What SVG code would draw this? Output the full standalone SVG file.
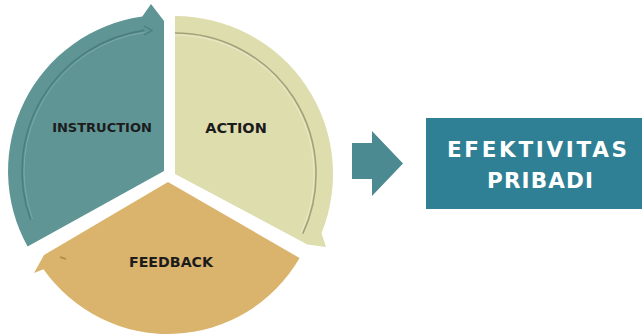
<svg xmlns="http://www.w3.org/2000/svg" width="644" height="336" viewBox="0 0 644 336">
<style>
.lbl{font-family:"DejaVu Sans","Liberation Sans",Arial,sans-serif;font-weight:bold;fill:#1c1c1c;text-anchor:middle}
.wl{font-family:"DejaVu Sans","Liberation Sans",Arial,sans-serif;font-weight:bold;fill:#ffffff;text-anchor:middle}
.ridge{fill:none;stroke-width:1.6}
.hl{fill:none;stroke-width:1;stroke:#ffffff}
</style>
<rect width="644" height="336" fill="#ffffff"/>
<g id="instruction">
<path d="M164,171 L27.6,246.6 A156,156 0 0 1 142.3,16.5 L151,4 L164,21 Z" fill="#5f9595"/>
<path class="ridge" d="M30.6,219.6 A142,142 0 0 1 144.2,30.4" stroke="#4b7f7f"/>
<path class="hl" d="M32.5,219 A140,140 0 0 1 144.5,32.4" stroke-opacity="0.18"/>
<path d="M144,26 L152,30.5 L144,35" fill="none" stroke="#4b7f7f" stroke-width="1.4"/>
<text class="lbl" x="102" y="132" font-size="13">INSTRUCTION</text>
</g>
<g id="action">
<path d="M175,174 L175,16 A158,158 0 0 1 321.5,233.2 L326,247 L307.4,244.4 Z" fill="#deddae"/>
<path class="ridge" d="M175,33 A141,141 0 0 1 302.8,233.6" stroke="#a3a17a"/>
<path class="hl" d="M175,35 A139,139 0 0 1 300.9,232.8" stroke-opacity="0.35"/>
<text class="lbl" x="236" y="133" font-size="14.5">ACTION</text>
</g>
<g id="feedback">
<path d="M168,182 L299.6,258 A152,152 0 0 1 43.5,269.2 L34,273 L44,255 Z" fill="#dab46c"/>
<path d="M60,257 L66,259" stroke="#8a6a35" stroke-width="1.4" stroke-opacity="0.6"/>
<text class="lbl" x="171" y="267" font-size="14.2">FEEDBACK</text>
</g>
<g id="connectors">
<path d="M352,143 L372,143 L372,131 L403,163.5 L372,196 L372,179 L352,179 Z" fill="#4b8a90"/>
</g>
<g id="efektivitas">
<rect x="426" y="118" width="216" height="91" fill="#2f7f95"/>
<text class="wl" x="537" y="157" font-size="21.5" textLength="180" lengthAdjust="spacing">EFEKTIVITAS</text>
<text class="wl" x="540" y="188" font-size="21.5" textLength="106" lengthAdjust="spacing">PRIBADI</text>
</g>
</svg>
